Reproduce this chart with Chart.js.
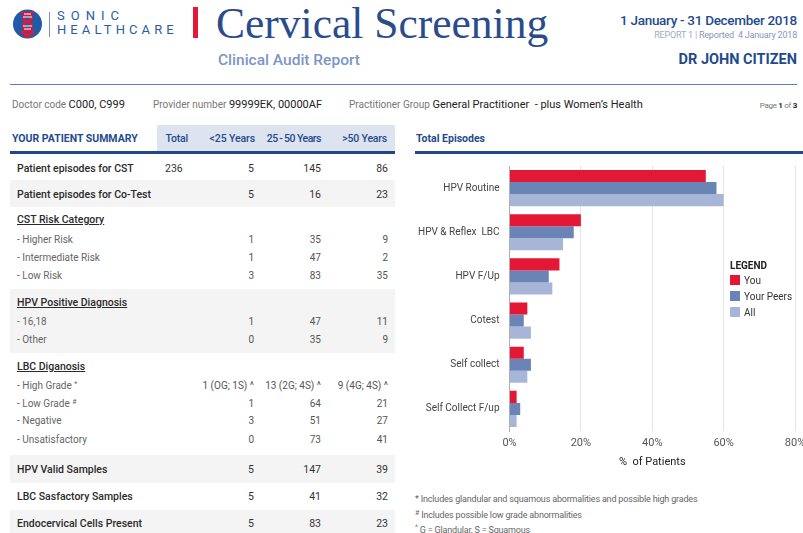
<!DOCTYPE html>
<html>
<head>
<meta charset="utf-8">
<script src="https://cdn.jsdelivr.net/npm/chart.js@4.4.0/dist/chart.umd.min.js"></script>
<style>
  html, body { margin: 0; padding: 0; background: #fff; }
  #page { position: relative; width: 803px; height: 533px; overflow: hidden; font-family: Roboto, sans-serif; color: #333; }
  .abs { position: absolute; white-space: nowrap; }
  .t { line-height: 14px; height: 14px; }
  .main { font-size: 10.5px; font-weight: 500; color: #2a2a2a; }
  .sub { font-size: 10px; font-weight: 400; color: #666; }
  .sect { font-size: 10.5px; font-weight: 500; color: #2a2a2a; text-decoration: underline; }
  .num { text-align: right; }
  .band { position: absolute; left: 10px; width: 385px; background: #f4f4f4; }
  sup { font-size: 7px; line-height: 0; vertical-align: 3px; }
</style>
</head>
<body>
<div id="page">
  <!-- logo -->
  <svg class="abs" style="left:0;top:0" width="60" height="50">
    <circle cx="27.5" cy="24" r="14.5" fill="#1f5ba6"/>
    <path d="M21 12 C34 15 34 19 27.5 21.5 C21 24 21 29 34 32 M34 32 C30 34 27 35 24 37" stroke="#e31837" stroke-width="2.6" fill="none"/>
    <path d="M34 12 C21 15 21 19 27.5 21.5 C34 24 34 29 21 32 M21 32 C25 34 28 35 31 37" stroke="#e31837" stroke-width="2.6" fill="none"/>
    <path d="M24 14 L31 14 M24 29 L31 29 M23 17 L32 17 M23 26 L32 26" stroke="#fff" stroke-width="1"/>
  </svg>
  <div class="abs" style="left:49px;top:12px;width:1px;height:25px;background:#7a8fb8"></div>
  <div class="abs" style="left:57px;top:9px;font-size:13px;letter-spacing:6px;color:#2b5ca4;line-height:14px">SONIC</div>
  <div class="abs" style="left:57px;top:23px;font-size:13px;letter-spacing:4.1px;color:#2b5ca4;line-height:14px">HEALTHCARE</div>
  <div class="abs" style="left:193px;top:7px;width:5px;height:31px;background:#e31837"></div>
  <div class="abs" style="left:216px;top:-3px;font-family:'Liberation Serif',serif;font-size:43.5px;color:#2b4c8c;line-height:52px">Cervical Screening</div>
  <div class="abs" style="left:218px;top:51px;font-size:15.5px;font-weight:500;color:#7d95c5;line-height:18px">Clinical Audit Report</div>

  <div class="abs" style="right:6px;top:11px;font-size:13.5px;font-weight:500;color:#1f4b8e;line-height:18px;letter-spacing:-0.3px">1 January - 31 December 2018</div>
  <div class="abs" style="right:6px;top:29px;font-size:9px;color:#a0acc8;line-height:12px;letter-spacing:-0.2px">REPORT 1 | <span style="color:#8796bb">Reported&nbsp; 4 January 2018</span></div>
  <div class="abs" style="right:6px;top:51px;font-size:14.5px;font-weight:700;color:#1f4b8e;line-height:18px">DR JOHN CITIZEN</div>

  <div class="abs" style="left:10px;top:84px;width:787px;height:1px;background:#5f7db5"></div>

  <div class="abs" style="left:12px;top:98px;line-height:14px;font-size:10px;color:#777">Doctor code&nbsp;<span style="font-size:11px;color:#222">C000, C999</span></div>
  <div class="abs" style="left:153px;top:98px;line-height:14px;font-size:10px;color:#777">Provider number&nbsp;<span style="font-size:11px;color:#222">99999EK, 00000AF</span></div>
  <div class="abs" style="left:349px;top:98px;line-height:14px;font-size:10px;color:#777">Practitioner Group&nbsp;<span style="font-size:11px;color:#222">General Practitioner &nbsp;- plus Women’s Health</span></div>
  <div class="abs" style="right:6px;top:99px;line-height:14px;font-size:8px;color:#777;letter-spacing:-0.3px">Page <b style="color:#222">1</b> of <b style="color:#222">3</b></div>

  <!-- summary header -->
  <div class="abs" style="left:157px;top:125px;width:238px;height:26px;background:#dde3ef"></div>
  <div class="abs" style="left:10px;top:151px;width:385px;height:3px;background:#22468a"></div>
  <div class="abs" style="left:415px;top:151px;width:388px;height:3px;background:#22468a"></div>
  <div class="abs" style="left:12px;top:132px;line-height:14px;font-size:10.5px;font-weight:700;color:#1f4b8e">YOUR PATIENT SUMMARY</div>
  <div class="abs" style="left:416px;top:132px;line-height:14px;font-size:10.5px;font-weight:700;color:#1f4b8e">Total Episodes</div>
  <div id="table"></div>

  <canvas id="chart" class="abs" style="left:405px;top:150px" width="415" height="330"></canvas>

  <div id="legend" class="abs" style="left:730px;top:259px;font-size:10px;color:#333"></div>

  <div class="abs" style="left:415px;top:493px;font-size:9px;color:#666;line-height:12px;letter-spacing:-0.18px">
    <div style="height:15.5px">* Includes glandular and squamous abormalities and possible high grades</div>
    <div style="height:15.5px"><sup>#</sup> Includes possible low grade abnormalities</div>
    <div><sup>^</sup> G = Glandular, S = Squamous</div>
  </div>
</div>

<script>
// Table data
const rowTypes = ['main', 'main', 'sect', 'sub', 'sub', 'sub', 'sect', 'sub', 'sub', 'sect', 'sub', 'sub', 'sub', 'sub', 'main', 'main', 'main'];
const rowLabels = ['Patient episodes for CST', 'Patient episodes for Co-Test', 'CST Risk Category', '- Higher Risk', '- Intermediate Risk', '- Low Risk',
  'HPV Positive Diagnosis', '- 16,18', '- Other', 'LBC Diganosis', '- High Grade <sup>*</sup>', '- Low Grade <sup>#</sup>', '- Negative', '- Unsatisfactory',
  'HPV Valid Samples', 'LBC Sasfactory Samples', 'Endocervical Cells Present'];
const totalCol = ['236', '', '', '', '', '', '', '', '', '', '', '', '', '', '', '', ''];
const under25 = ['5', '5', '', '1', '1', '3', '', '1', '0', '', '1 (OG; 1S) ^', '1', '3', '0', '5', '5', '5'];
const age25to50 = ['145', '16', '', '35', '47', '83', '', '47', '35', '', '13 (2G; 4S) ^', '64', '51', '73', '147', '41', '83'];
const over50 = ['86', '23', '', '9', '2', '35', '', '11', '9', '', '9 (4G; 4S) ^', '21', '27', '41', '39', '32', '23'];
const rowY = [169, 195, 220, 239.5, 257.5, 276, 303, 321.5, 339.5, 366.5, 385.5, 403.5, 421, 439.5, 469.5, 497, 524];
const bands = [[180, 207], [289, 353], [455, 483], [510, 537]];
const headCols = ['Total', '<25 Years', '25\u2009-\u200950 Years', '>50 Years'];

// Chart data
const categories = ['HPV Routine', 'HPV & Reflex  LBC', 'HPV F/Up', 'Cotest', 'Self collect', 'Self Collect F/up'];
const youValues = [55, 20, 14, 5, 4, 2];
const peerValues = [58, 18, 11, 4, 6, 3];
const allValues = [60, 15, 12, 6, 5, 2];
const seriesNames = ['You', 'Your Peers', 'All'];
const seriesColors = ['#e31837', '#6a84b6', '#a7b6d7'];
const xTicks = [0, 20, 40, 60, 80];

// build table
const table = document.getElementById('table');
let html = '';
bands.forEach(b => {
  html += `<div class="band" style="top:${b[0]}px;height:${b[1] - b[0]}px"></div>`;
});
const headRight = [188, 255, 321, 387];
const headSpacing = [-0.2, -0.1, -0.5, -0.2];
headCols.forEach((h, i) => {
  const esc = h.replace('<', '&lt;').replace('>', '&gt;');
  html += `<div class="abs t" style="right:${803 - headRight[i]}px;top:132px;font-size:10.5px;font-weight:500;color:#1f4b8e;letter-spacing:${headSpacing[i]}px">${esc}</div>`;
});
rowLabels.forEach((lab, i) => {
  const type = rowTypes[i];
  const top = rowY[i] - 7;
  html += `<div class="abs t ${type}" style="left:17px;top:${top}px">${lab}</div>`;
  if (type === 'sect') return;
  const cls = type === 'main' ? 'main' : 'sub';
  const extra = type === 'main' ? 'font-weight:400;color:#333' : 'color:#555';
  if (totalCol[i]) html += `<div class="abs t ${cls}" style="left:165px;top:${top}px;${extra}">${totalCol[i]}</div>`;
  [[under25, 254], [age25to50, 321], [over50, 388]].forEach(([arr, right]) => {
    html += `<div class="abs t num ${cls}" style="right:${803 - right}px;top:${top}px;${extra}">${arr[i]}</div>`;
  });
});
table.innerHTML = html;

// legend
let lg = '<div style="font-weight:700;font-size:10px;color:#222;line-height:14px">LEGEND</div>';
seriesNames.forEach((n, i) => {
  lg += `<div style="line-height:16px;height:16px"><span style="display:inline-block;width:10px;height:10px;background:${seriesColors[i]};margin-right:4px;vertical-align:-1px"></span>${n}</div>`;
});
document.getElementById('legend').innerHTML = lg;

Chart.defaults.font.family = 'Roboto, sans-serif';

new Chart(document.getElementById('chart'), {
  type: 'bar',
  data: {
    labels: categories,
    datasets: [youValues, peerValues, allValues].map((d, i) => ({
      label: seriesNames[i],
      data: d,
      backgroundColor: seriesColors[i],
      borderWidth: 0,
      categoryPercentage: 0.82,
      barPercentage: 1
    }))
  },
  options: {
    indexAxis: 'y',
    responsive: false,
    animation: false,
    layout: { padding: { left: 0, right: 25, top: 0, bottom: 9 } },
    plugins: { legend: { display: false }, tooltip: { enabled: false } },
    scales: {
      x: {
        min: 0,
        max: 80,
        afterBuildTicks: s => { s.ticks = xTicks.map(v => ({ value: v })); },
        ticks: { callback: v => v + '%', color: '#555', font: { size: 11 }, padding: 6 },
        grid: { color: '#e4e4e4', drawTicks: false },
        border: { display: false },
        title: { display: true, text: '%  of Patients', color: '#222', font: { size: 11 }, padding: { top: 4, bottom: 2 } },
        afterFit: s => { s.height = 40; }
      },
      y: {
        grid: { display: false, drawTicks: false },
        border: { display: true, color: '#b0b0b0' },
        ticks: { color: '#444', font: { size: 10 }, padding: 10 },
        afterFit: s => { s.width = 104.5; }
      }
    }
  }
});
</script>
</body>
</html>
